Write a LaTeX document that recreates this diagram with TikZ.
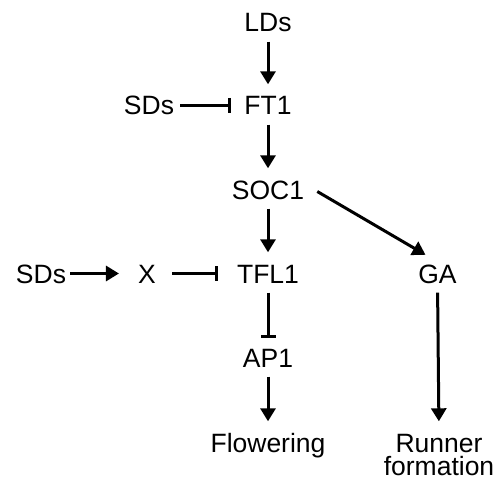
\documentclass[tikz,border=0pt]{standalone}
\usepackage{fontspec}
\setmainfont{Liberation Sans}
\usepackage{tikz}
\usetikzlibrary{positioning, arrows.meta}

\tikzset{
    lbl/.style={font=\fontsize{26.5}{25}\selectfont, inner sep=0pt, text height=19pt, text depth=0pt, anchor=base},
    act/.style={-{Triangle[length=13pt,width=15pt]}, line width=3pt},
    inh/.style={-{Bar[width=15pt]}, line width=3pt}
}

\begin{document}
\begin{tikzpicture}[x=1pt, y=-1pt]
        \useasboundingbox (0,0) rectangle (500,481);
        \node[lbl] (LDs) at (268,32) {LDs};
        \node[lbl] (FT1) at (268,115) {FT1};
        \node[lbl] (SDsA) at (149,115) {SDs};
        \node[lbl] (SOC1) at (268,199) {SOC1};
        \node[lbl] (TFL1) at (268,283) {TFL1};
        \node[lbl] (X) at (147,283) {X};
        \node[lbl] (SDsB) at (41,283) {SDs};
        \node[lbl] (GA) at (437.5,283) {GA};
        \node[lbl] (AP1) at (268,367) {AP1};
        \node[lbl] (flow) at (268,452) {Flowering};
        \node[lbl] (runner) at (439,452) {\begin{tabular}[t]{@{}c@{}}Runner\\[-3pt]formation\end{tabular}};
        \foreach \a/\b in {LDs/FT1, FT1/SOC1, SOC1/TFL1, AP1/flow, GA/runner}
            \draw [act, shorten <=9.5pt, shorten >=11.5pt] (\a.south) -- (\b.north);
        \draw [inh, shorten <=9.5pt, shorten >=10pt] (TFL1.south) -- (AP1.north);
        \draw [inh, shorten <=6pt, shorten >=13pt] (SDsA.east) -- (FT1.west);
        \draw [act, shorten <=4pt, shorten >=19pt] (SDsB.east) -- (X.west);
        \draw [inh, shorten <=16pt, shorten >=19pt] (X.east) -- (TFL1.west);
        \draw [act] ([shift={(13pt,-2pt)}]SOC1.east) -- ([shift={(-12pt,9pt)}]GA.north);
    \end{tikzpicture}
\end{document}
